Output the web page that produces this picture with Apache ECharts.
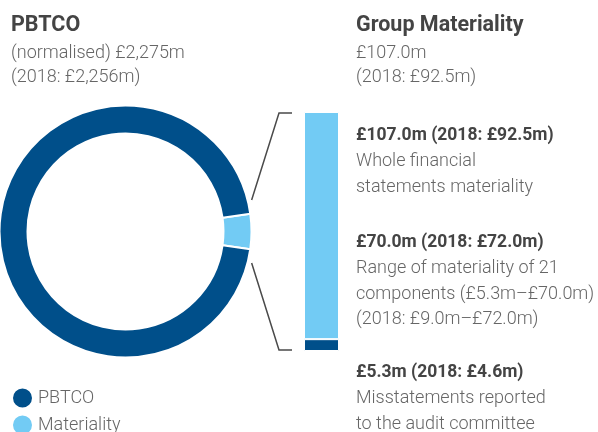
<!DOCTYPE html>
<html><head><meta charset="utf-8">
<script src="https://cdn.jsdelivr.net/npm/echarts@6/dist/echarts.min.js"></script>
<style>html,body{margin:0;padding:0;background:#fff}#chart{width:598px;height:432px}</style>
</head><body><div id="chart"></div>
<script>
// Profit before tax from continuing operations vs. group materiality (£m)
const donutNames = ['Materiality', 'PBTCO'];
const donutValues = [107.0, 2275];
// Breakdown of group materiality (£m)
const groupMateriality = 107.0;
const misstatementThreshold = 5.3;

const leftHeading = 'PBTCO';
const leftLines = ['(normalised) £2,275m', '(2018: £2,256m)'];
const rightHeading = 'Group Materiality';
const rightLines = ['£107.0m', '(2018: £92.5m)'];
const noteHeads = ['£107.0m (2018: £92.5m)', '£70.0m (2018: £72.0m)', '£5.3m (2018: £4.6m)'];
const noteBodies = [
  ['Whole financial', 'statements materiality'],
  ['Range of materiality of 21', 'components (£5.3m–£70.0m)', '(2018: £9.0m–£72.0m)'],
  ['Misstatements reported', 'to the audit committee']
];

const DARK = '#004f8a';
const LIGHT = '#72cbf4';
const HEAD_COLOR = '#444444';
const BODY_COLOR = '#666666';
const FONT = 'Roboto, "Noto Sans", sans-serif';

const chart = echarts.init(document.getElementById('chart'), null, {renderer: 'canvas'});

// text placed by baseline
function textAt(str, x, baseline, size, weight, color) {
  return {
    type: 'text', x: x, y: baseline - size * 0.34 + 1.5, silent: true,
    style: {
      text: str, fill: color, fontSize: size, fontWeight: weight,
      fontFamily: FONT, verticalAlign: 'middle', align: 'left'
    }
  };
}

const texts = [];
texts.push(textAt(leftHeading, 11, 31.5, 21.5, 'bold', HEAD_COLOR));
leftLines.forEach((t, i) => texts.push(textAt(t, 11, 58 + i * 24.5, 18, 300, BODY_COLOR)));
texts.push(textAt(rightHeading, 356, 31.5, 21.5, 'bold', HEAD_COLOR));
rightLines.forEach((t, i) => texts.push(textAt(t, 356, 58 + i * 24.5, 18, 300, BODY_COLOR)));
const headBase = [140, 247, 377.5];
noteHeads.forEach((h, k) => {
  texts.push(textAt(h, 356, headBase[k], 17.5, 'bold', HEAD_COLOR));
  noteBodies[k].forEach((t, i) => texts.push(textAt(t, 356, headBase[k] + 26 + i * 25.8, 18, 300, BODY_COLOR)));
});

const total = donutValues.reduce((a, b) => a + b, 0);
const halfSlice = 360 * donutValues[0] / total / 2;
const CX = 125.5, CY = 231.5, R_IN = 98, R_OUT = 126;

const legendBase = {
  orient: 'vertical', left: 6, icon: 'circle', itemWidth: 21, itemHeight: 21,
  textStyle: {fontSize: 18, fontWeight: 300, color: BODY_COLOR, fontFamily: FONT}
};

chart.setOption({
  animation: false,
  legend: [
    Object.assign({data: ['PBTCO'], top: 381.5}, legendBase),
    Object.assign({data: ['Materiality'], top: 408.5}, legendBase)
  ],
  grid: {left: 304, top: 112, width: 35, height: 239},
  xAxis: {type: 'category', data: [''], show: false},
  yAxis: {type: 'value', min: 0, max: groupMateriality, show: false},
  series: [
    {
      type: 'pie', center: [CX, CY], radius: [R_IN, R_OUT],
      startAngle: halfSlice, clockwise: true,
      label: {show: false}, labelLine: {show: false}, silent: true,
      itemStyle: {borderColor: '#fff', borderWidth: 2},
      data: donutNames.map((n, i) => ({name: n, value: donutValues[i], itemStyle: {color: i === 0 ? LIGHT : DARK}}))
    },
    {
      type: 'bar', stack: 'm', barWidth: '100%', silent: true,
      itemStyle: {color: DARK, borderColor: '#fff', borderWidth: 1},
      data: [misstatementThreshold]
    },
    {
      type: 'bar', stack: 'm', barWidth: '100%', silent: true,
      itemStyle: {color: LIGHT, borderColor: '#fff', borderWidth: 1},
      data: [groupMateriality - misstatementThreshold]
    }
  ],
  graphic: texts
});

// bracket linking the materiality slice to the breakdown bar
const topPx = chart.convertToPixel({gridIndex: 0}, [0, groupMateriality]);
const botPx = chart.convertToPixel({gridIndex: 0}, [0, 0]);
const barLeft = topPx[0] - 17.5;
const ang = 14 * Math.PI / 180, rr = R_OUT + 4;
const lineStyle = {stroke: '#4a4a4a', lineWidth: 1.5, fill: null};
chart.setOption({
  graphic: texts.concat([
    {type: 'polyline', silent: true, shape: {points: [[barLeft - 12, topPx[1] + 1], [barLeft - 25, topPx[1] + 1], [CX + rr * Math.cos(ang), CY - rr * Math.sin(ang)]]}, style: lineStyle},
    {type: 'polyline', silent: true, shape: {points: [[barLeft - 12, botPx[1] - 1], [barLeft - 25, botPx[1] - 1], [CX + rr * Math.cos(ang), CY + rr * Math.sin(ang)]]}, style: lineStyle}
  ])
});
</script></body></html>
